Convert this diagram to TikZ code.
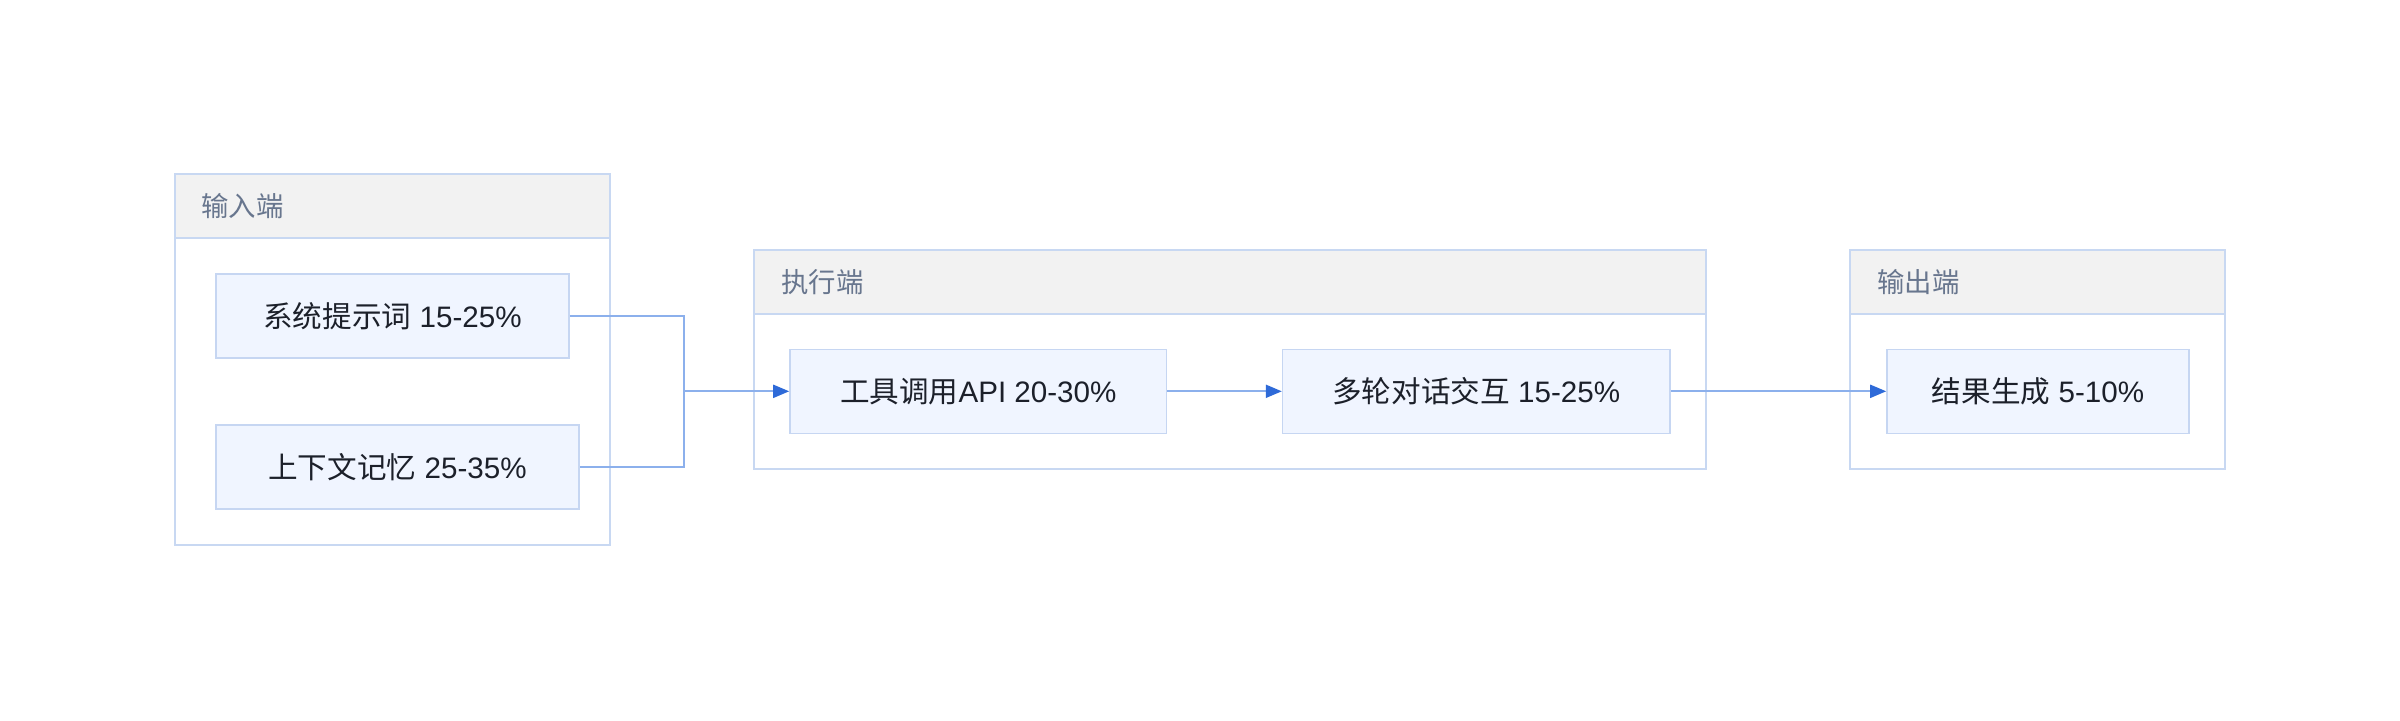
\documentclass[tikz,border=0pt]{standalone}
\usepackage{fontspec}
\setmainfont{Liberation Sans}
\newfontfamily\cjk{Noto Sans CJK SC}
\usetikzlibrary{arrows.meta}
\definecolor{grpborder}{RGB}{200,216,242}
\definecolor{nodeborder}{RGB}{198,214,242}
\definecolor{nodefill}{RGB}{240,245,255}
\definecolor{hdrfill}{RGB}{242,242,242}
\definecolor{edgeline}{RGB}{140,176,236}
\definecolor{arrowblue}{RGB}{46,106,216}
\definecolor{titletext}{RGB}{104,118,142}
\definecolor{nodetext}{RGB}{28,32,42}
\tikzset{
  grpbox/.style={draw=grpborder, line width=1pt, fill=white, rectangle, inner sep=0pt},
  hdrbox/.style={draw=grpborder, line width=1pt, fill=hdrfill, rectangle, inner sep=0pt},
  grptitle/.style={anchor=west, inner sep=0pt, text=titletext, font=\fontsize{13.7pt}{15pt}\selectfont},
  nodebox/.style={draw=nodeborder, line width=0.8pt, fill=nodefill, rectangle, inner sep=0pt,
     minimum height=42pt, text=nodetext, font=\fontsize{14.8pt}{17pt}\selectfont},
  link/.style={draw=edgeline, line width=1pt},
  arrowlink/.style={draw=edgeline, line width=1pt, -{Triangle[length=8pt, width=6.5pt, color=arrowblue]}}
}
\begin{document}
\begin{tikzpicture}[x=0.5pt, y=-0.5pt]
\useasboundingbox (0,0) rectangle (2400,720);
% groups
\node[grpbox, minimum width=217.75pt, minimum height=185.5pt] (g1) at (392.25,359.5) {};
\node[hdrbox, minimum width=217.75pt, minimum height=32pt] (g1h) at (392.25,206) {};
\node[grptitle] (g1t) at (201,206) {\cjk 输入端};
\node[grpbox, minimum width=475.75pt, minimum height=109.5pt] (g2) at (1229.75,359.5) {};
\node[hdrbox, minimum width=475.75pt, minimum height=32pt] (g2h) at (1229.75,282) {};
\node[grptitle] (g2t) at (781,282) {\cjk 执行端};
\node[grpbox, minimum width=187.5pt, minimum height=109.5pt] (g3) at (2037.5,359.5) {};
\node[hdrbox, minimum width=187.5pt, minimum height=32pt] (g3h) at (2037.5,282) {};
\node[grptitle] (g3t) at (1877,282) {\cjk 输出端};
% nodes
\node[nodebox, minimum width=176.5pt] (n1) at (392.5,316) {{\cjk 系统提示词} 15-25\%};
\node[nodebox, minimum width=181.5pt] (n2) at (397.5,467.2) {{\cjk 上下文记忆} 25-35\%};
\node[nodebox, minimum width=188.3pt] (n3) at (978.3,391.3) {{\cjk 工具调用}API 20-30\%};
\node[nodebox, minimum width=193.7pt] (n4) at (1476.3,391.3) {{\cjk 多轮对话交互} 15-25\%};
\node[nodebox, minimum width=151pt] (n5) at (2038,391.3) {{\cjk 结果生成} 5-10\%};
% connectors
\coordinate (j) at (684.3,391.3);
\draw[link] (n1.east) -| (j);
\draw[link] (n2.east) -| (j);
\draw[arrowlink] (j) -- (n3.west);
\draw[arrowlink] (n3.east) -- (n4.west);
\draw[arrowlink] (n4.east) -- (n5.west);
\end{tikzpicture}
\end{document}
